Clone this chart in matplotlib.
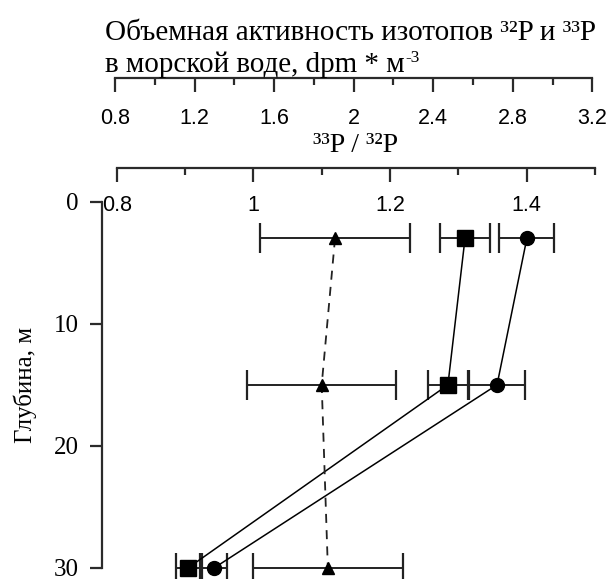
import matplotlib
matplotlib.use("Agg")
import matplotlib.pyplot as plt

# ---- data ----
depth = [3, 15, 30]
# activity of isotopes (dpm * m^-3), top axis
act_32 = [2.56, 2.474, 1.167]          # squares
act_32_err = [0.128, 0.10, 0.058]
act_33 = [2.871, 2.721, 1.298]         # circles
act_33_err = [0.138, 0.14, 0.063]
# 33P/32P ratio (triangles)
ratio = [1.1195, 1.100, 1.109]
ratio_err = [0.11, 0.109, 0.11]

act_ticks = [0.8, 1.2, 1.6, 2.0, 2.4, 2.8, 3.2]
act_ticklabels = ["0.8", "1.2", "1.6", "2", "2.4", "2.8", "3.2"]
act_minor = [1.0, 1.4, 1.8, 2.2, 2.6, 3.0]
ratio_ticks = [0.8, 1.0, 1.2, 1.4]
ratio_ticklabels = ["0.8", "1", "1.2", "1.4"]
ratio_minor = [0.9, 1.1, 1.3, 1.5]
depth_ticks = [0, 10, 20, 30]

W, H = 610, 579
fig = plt.figure(figsize=(W / 100, H / 100), dpi=100)

# pixel layout of the reference
px_left, px_right = 101.7, 600.0
py_top, py_bot = 201.7, 568.0
act_px = (115.0, 592.3)      # pixels of 0.8 and 3.2 on activity scale
rat_px = (116.7, 526.7)      # pixels of 0.8 and 1.4 on ratio scale

def lim_from(px0, px1, v0, v1):
    k = (v1 - v0) / (px1 - px0)
    return (v0 + (px_left - px0) * k, v0 + (px_right - px0) * k)

act_lim = lim_from(act_px[0], act_px[1], 0.8, 3.2)
rat_lim = lim_from(rat_px[0], rat_px[1], 0.8, 1.4)

ax = fig.add_axes([px_left / W, 1 - py_bot / H, (px_right - px_left) / W, (py_bot - py_top) / H])
ax.set_xlim(*act_lim)
ax.set_ylim(30, 0)
ax.patch.set_visible(False)

spc = '#2b2b2b'
axh = py_bot - py_top

def make_top(xlim, bounds, ticks, labels, minor, line_y, pad):
    a = ax.twiny()
    a.set_xlim(*xlim)
    for s in ['top', 'right', 'left']:
        a.spines[s].set_visible(False)
    a.spines['bottom'].set_position(('axes', (py_bot - line_y) / axh))
    a.spines['bottom'].set_bounds(*bounds)
    a.spines['bottom'].set_color(spc)
    a.spines['bottom'].set_linewidth(1.6)
    a.xaxis.set_ticks_position('bottom')
    a.set_xticks(ticks)
    a.set_xticklabels(labels, fontfamily='Liberation Sans', fontsize=15.5)
    a.set_xticks(minor, minor=True)
    a.tick_params(axis='x', which='major', direction='out', length=10, width=1.6, color=spc, pad=pad)
    a.tick_params(axis='x', which='minor', direction='out', length=5, width=1.6, color=spc)
    a.tick_params(axis='x', which='both', top=False, labeltop=False)
    a.patch.set_visible(False)
    return a

ax_a = make_top(act_lim, (0.8, 3.2), act_ticks, act_ticklabels, act_minor, 78.3, 11.5)
ax_r = make_top(rat_lim, (0.8, 1.5), ratio_ticks, ratio_ticklabels, ratio_minor, 168.3, 9.5)

for s in ['top', 'right', 'bottom']:
    ax.spines[s].set_visible(False)
ax.spines['left'].set_color(spc)
ax.spines['left'].set_linewidth(1.6)
ax.set_yticks(depth_ticks)
ax.set_yticklabels([str(d) for d in depth_ticks], fontfamily='Liberation Serif', fontsize=18)
ax.tick_params(axis='y', direction='out', length=8.4, width=1.6, color=spc, pad=8)
ax.tick_params(axis='x', which='both', bottom=False, labelbottom=False, top=False, labeltop=False)
ax.set_ylabel('Глубина, м', fontfamily='Liberation Serif', fontsize=18, labelpad=12)

ebkw = dict(ecolor='#222222', elinewidth=1.4, capsize=10.8, capthick=1.6, clip_on=False)
# ratio (triangles, dashed)
ax_r.errorbar(ratio, depth, xerr=ratio_err, fmt='none', **ebkw)
ax_r.plot(ratio, depth, linestyle=(0, (5, 4)), color='#222222', lw=1.3, clip_on=False)
ax_r.plot(ratio, depth, linestyle='none', marker='^', color='black', ms=9, clip_on=False)
# activities
ax_a.errorbar(act_32, depth, xerr=act_32_err, fmt='none', **ebkw)
ax_a.errorbar(act_33, depth, xerr=act_33_err, fmt='none', **ebkw)
ax_a.plot(act_32, depth, '-', color='black', lw=1.1, clip_on=False)
ax_a.plot(act_33, depth, '-', color='black', lw=1.1, clip_on=False)
ax_a.plot(act_32, depth, linestyle='none', marker='s', color='black', ms=11.5, clip_on=False)
ax_a.plot(act_33, depth, linestyle='none', marker='o', color='black', ms=10, clip_on=False)

serif = ['Liberation Serif', 'DejaVu Serif']
fig.text(105 / W, 1 - 40 / H, 'Объемная активность изотопов ³²P и ³³P',
         fontfamily=serif, fontsize=21, ha='left', va='baseline')
t2 = fig.text(105 / W, 1 - 71.7 / H, 'в морской воде, dpm * м',
              fontfamily=serif, fontsize=21, ha='left', va='baseline')
# superscript "-3" placed right after the second title line
fig.canvas.draw()
bb = t2.get_window_extent()
fig.text((bb.x1 + 1) / W, 1 - 62 / H, '-3', fontfamily=serif, fontsize=12.5,
         ha='left', va='baseline')
fig.text(356 / W, 1 - 152 / H, '³³P / ³²P',
         fontfamily=serif, fontsize=20, ha='center', va='baseline')

fig.savefig('out.png', dpi=100, facecolor='white')
